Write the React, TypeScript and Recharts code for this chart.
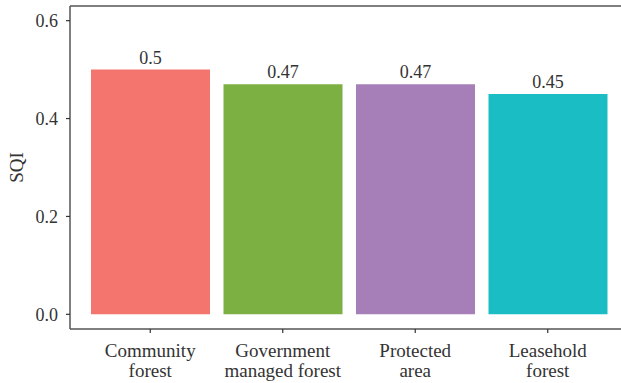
import React from 'react';
import { BarChart, Bar, XAxis, YAxis, Cell, LabelList, ReferenceLine } from 'recharts';

// SQI by forest management type
const categories = ['Community\nforest', 'Government\nmanaged forest', 'Protected\narea', 'Leasehold\nforest'];
const sqiValues = [0.5, 0.47, 0.47, 0.45];
const barColors = ['#F3756E', '#7CB042', '#A67FB9', '#1BBDC4'];
const yTicks = [0, 0.2, 0.4, 0.6];

const FONT = '"Liberation Serif", "Times New Roman", serif';
const TEXT = '#333333';
const AXIS = '#555555';

const data = categories.map((name, i) => ({ name, sqi: sqiValues[i] }));

function CategoryTick({ x, y, payload }: any) {
  const lines = String(payload.value).split('\n');
  return (
    <text x={x} y={y} textAnchor="middle" fill={TEXT} fontFamily={FONT} fontSize={19}>
      {lines.map((line, i) => (
        <tspan key={i} x={x} dy={i === 0 ? 22 : 20}>
          {line}
        </tspan>
      ))}
    </text>
  );
}

export default function App() {
  return (
    <div style={{ position: 'fixed', left: 0, top: 0, width: 621, height: 383, overflow: 'hidden', background: '#fff' }}>
      <BarChart
        width={640}
        height={383}
        data={data}
        margin={{ top: 6, right: 13, left: 0, bottom: 0 }}
      >
        <XAxis
          dataKey="name"
          height={54}
          padding={{ left: 14, right: 13 }}
          tick={<CategoryTick />}
          tickSize={4}
          tickLine={{ stroke: '#333', strokeWidth: 1.2 }}
          axisLine={{ stroke: AXIS, strokeWidth: 1.5 }}
          interval={0}
        />
        <YAxis
          width={70}
          domain={[-0.03, 0.63]}
          ticks={yTicks}
          tickFormatter={(v: number) => v.toFixed(1)}
          tickSize={4}
          tickMargin={8}
          tick={{ fill: TEXT, fontFamily: FONT, fontSize: 18 }}
          tickLine={{ stroke: '#333', strokeWidth: 1.2 }}
          axisLine={{ stroke: AXIS, strokeWidth: 1.5 }}
          label={{
            value: 'SQI',
            angle: -90,
            position: 'insideLeft',
            offset: 16,
            style: { fill: TEXT, fontFamily: FONT, fontSize: 19, textAnchor: 'middle' },
          }}
        />
        <ReferenceLine y={0.63} stroke={AXIS} strokeWidth={1.5} />
        <Bar dataKey="sqi" barSize={119} isAnimationActive={false}>
          {data.map((_, i) => (
            <Cell key={i} fill={barColors[i]} />
          ))}
          <LabelList
            dataKey="sqi"
            position="top"
            offset={6}
            style={{ fill: TEXT, fontFamily: FONT, fontSize: 18 }}
          />
        </Bar>
      </BarChart>
    </div>
  );
}
